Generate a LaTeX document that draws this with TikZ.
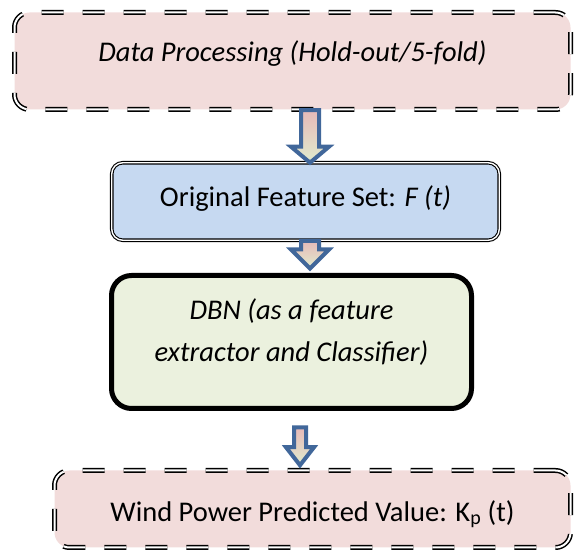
\documentclass[tikz,border=0pt]{standalone}
\usepackage{fontspec}
\setmainfont{Carlito}
\usetikzlibrary{calc}
\definecolor{boxpink}{RGB}{242,220,219}
\definecolor{boxblue}{RGB}{198,217,241}
\definecolor{boxgreen}{RGB}{235,241,222}
\definecolor{arrowblue}{RGB}{65,103,154}
\definecolor{arrowtop}{RGB}{230,185,184}
\definecolor{arrowbottom}{RGB}{225,236,205}
\tikzset{
  flowtext/.style={
    font=\fontsize{28.5}{42}\selectfont,
    inner sep=0pt,
    align=center
  },
%
  dashbox/.style={
    flowtext,
    draw=black,
    fill=boxpink,
    line width=1.5pt,
    double=white,
    double distance=2pt,
    dash pattern=on 22pt off 19pt,
    rounded corners=15pt
  },
%
  featbox/.style={
    flowtext,
    draw=black,
    fill=boxblue,
    line width=1.1pt,
    double=white,
    double distance=1.4pt,
    rounded corners=11pt
  },
%
  dbnbox/.style={
    flowtext,
    draw=black,
    fill=boxgreen,
    line width=5pt,
    rounded corners=20pt
  },
%
  fatarrow/.style={
    draw=arrowblue,
    line width=4pt,
    line join=miter,
    top color=arrowtop,
    bottom color=arrowbottom
  },
}

\begin{document}
\begin{tikzpicture}[x=1pt,y=-1pt]
\useasboundingbox (0,0) rectangle (574,553);

\node[dashbox, minimum width=556, minimum height=97, text height=20pt, text depth=18.8pt] at (292.5,61) (proc) {\itshape Data Processing (Hold-out/5-fold)};
\node[featbox, minimum width=387.5, minimum height=77.5, text height=20pt, text depth=9.8pt] at (305.5,201.5) (feat) {Original Feature Set: \textit{F (t)}};
\node[dbnbox, minimum width=360, minimum height=133, text height=20pt, text depth=64pt] at (291.5,342) (dbn) {\itshape\begin{tabular}[t]{@{}c@{}}DBN (as a feature\\extractor and Classifier)\end{tabular}};
\node[dashbox, minimum width=516, minimum height=77, text height=26pt, text depth=1.8pt] at (312.5,509) (pred) {Wind Power Predicted Value: K\textsubscript{p} (t)};

% block arrows between the boxes
\draw[fatarrow] let \p1=(proc.south), \p2=(feat.north) in
  (301,\y1) -- (319,\y1) -- (319,\y2+15.5pt) -- (329,\y2+15.5pt)
  -- (310,\y2-0.5pt) -- (291,\y2+15.5pt) -- (301,\y2+15.5pt) -- cycle;
\draw[fatarrow] let \p1=(feat.south), \p2=(dbn.north) in
  (301,\y1) -- (319,\y1) -- (319,\y2+23.5pt) -- (329,\y2+23.5pt)
  -- (310,\y2+4.5pt) -- (291,\y2+23.5pt) -- (301,\y2+23.5pt) -- cycle;
\draw[fatarrow] let \p1=(dbn.south), \p2=(pred.north) in
  (294,\y1-16.5pt) -- (306,\y1-16.5pt) -- (306,\y2+22.5pt) -- (314,\y2+22.5pt)
  -- (300,\y2+4.5pt) -- (286,\y2+22.5pt) -- (294,\y2+22.5pt) -- cycle;

\end{tikzpicture}
\end{document}
